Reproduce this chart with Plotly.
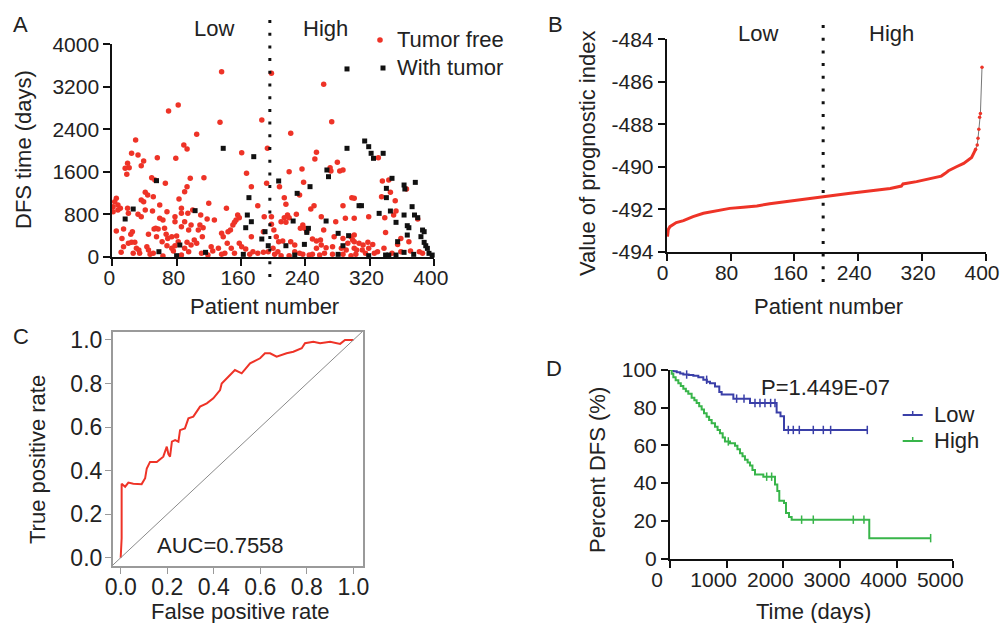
import numpy as np
import plotly.graph_objects as go

W, H = 1001, 623
FONT = "Arial, Liberation Sans, sans-serif"
TXT = "#222222"
RED = "#ee3327"
BLUE = "#3a3fa8"
GREEN = "#38b54a"

# ---------------- Panel A data: (patient number, DFS days) ----------------
red_patient = [82, 70, 29, 24, 32, 39, 36, 19, 21, 16, 18, 56, 79, 89, 93, 66, 49, 53, 83, 90, 93, 97, 41, 44, 36, 39, 51, 59, 5, 3, 7, 10, 1, 7, 1, 19, 20, 32, 36, 41, 50, 68, 86, 86, 78, 94, 59, 63, 78, 90, 86, 95, 54, 52, 57, 5, 14, 25, 23, 45, 65, 67, 74, 80, 69, 12, 20, 24, 28, 55, 62, 68, 82, 93, 14, 30, 43, 45, 51, 63, 26, 11, 34, 74, 78, 76, 90, 95, 86, 47, 33,
               136, 134, 105, 186, 114, 161, 167, 173, 193, 198, 192, 120, 142, 181, 100, 110, 118, 127, 156, 158, 154, 152, 150, 147, 144, 136, 138, 113, 109, 107, 112, 98, 102, 105, 98, 123, 132, 125, 143, 148, 158, 161, 166, 173, 189, 188, 175, 181, 188, 194, 152, 140, 111, 119, 136, 171,
               263, 273, 222, 254, 252, 236, 220, 271, 272, 280, 283, 287, 238, 208, 298, 214, 216, 233, 251, 247, 287, 229, 218, 220, 260, 214, 210, 216, 278, 290, 198, 198, 201, 237, 234, 239, 242, 263, 276, 287, 297, 299, 204, 207, 212, 222, 227, 249, 254, 259, 260, 254, 266, 274, 285, 293, 291, 301, 301, 202, 206, 227, 233, 237, 245, 249, 258, 264, 274, 287, 297, 220, 210, 200,
               331, 336, 344, 346, 335, 366, 352, 319, 339, 350, 353, 380, 301, 301, 301, 340, 359, 355, 369, 307, 312, 318, 324, 319, 311, 304, 330, 338, 348, 359, 371, 382, 386, 326, 315, 303]
red_dfs = [2857, 2744, 2198, 1947, 1915, 1802, 1714, 1758, 1677, 1664, 1551, 1865, 1853, 2104, 2028, 1382, 1488, 1444, 1086, 1225, 1319, 1476, 1212, 1162, 1068, 1036, 1130, 973, 1099, 1036, 973, 911, 942, 879, 848, 911, 816, 798, 754, 879, 860, 848, 911, 816, 754, 816, 722, 691, 659, 659, 565, 502, 534, 521, 521, 483, 521, 471, 421, 421, 534, 421, 377, 389, 345, 345, 251, 270, 270, 377, 283, 207, 283, 270, 188, 157, 188, 126, 63, 13, 63, 82, 63, 157, 207, 107, 157, 94, 31, 44, 126,
           3485, 2531, 2305, 2575, 1488, 1959, 1570, 1319, 2041, 3454, 1382, 1005, 911, 961, 879, 785, 710, 691, 785, 735, 691, 647, 597, 502, 471, 440, 377, 546, 597, 502, 377, 597, 314, 251, 220, 188, 157, 107, 251, 157, 251, 188, 144, 377, 754, 471, 94, 63, 82, 94, 63, 63, 63, 31, 44, 44,
           3247, 2543, 2324, 1966, 1840, 1652, 1601, 1677, 1614, 1777, 1614, 1633, 1400, 1319, 1112, 1112, 986, 1162, 961, 898, 961, 798, 785, 735, 754, 735, 659, 647, 659, 722, 754, 609, 502, 597, 534, 534, 471, 502, 377, 345, 377, 314, 377, 283, 295, 283, 220, 333, 295, 314, 220, 157, 170, 188, 157, 251, 126, 283, 157, 44, 94, 94, 63, 44, 31, 44, 31, 63, 44, 44, 19, 19, 19, 157,
           1865, 1426, 1444, 1212, 1130, 1275, 1055, 754, 735, 785, 860, 710, 1099, 722, 408, 458, 345, 232, 283, 251, 220, 270, 232, 157, 126, 126, 94, 157, 63, 94, 107, 94, 63, 63, 63, 44]

black_patient = [55, 26, 16, 58, 84, 80,
                 138, 176, 170, 103, 168, 173, 166, 190, 186, 194, 116, 163,
                 292, 292, 207, 267, 269, 246, 230, 225, 266, 244, 242, 281, 294, 216, 239, 287, 227, 281,
                 314, 319, 322, 325, 337, 348, 341, 363, 364, 377, 341, 307, 310, 332, 346, 353, 363, 373, 376, 380, 367, 369, 386, 388, 384, 367, 388, 390, 355, 392, 363, 344, 340, 375, 398, 394, 319, 353]
black_dfs = [1432, 898, 710, 94, 220, 19,
             2041, 1884, 1112, 867, 785, 659, 546, 471, 333, 207, 82, 44,
             3536, 2041, 1426, 1633, 1507, 1319, 1193, 672, 672, 534, 458, 440, 396, 207, 232, 207, 31, 44,
             2179, 2072, 1947, 1853, 1947, 1476, 1287, 1350, 1275, 1400, 1112, 961, 961, 816, 860, 647, 785, 942, 785, 735, 584, 546, 502, 471, 377, 408, 270, 207, 283, 157, 82, 31, 31, 44, 31, 63, 19, 31]

cutoff_patient = 196

# ---------------- Panel B data: sorted prognostic index ----------------
b_patient = [1, 2, 4, 12, 21, 33, 46, 63, 79, 96, 113, 129, 146, 163, 180, 195, 213, 230, 246, 263, 280, 294, 296, 313, 330, 344, 349, 353, 363, 372, 382, 387]
b_value = [-493.29, -492.95, -492.82, -492.63, -492.54, -492.35, -492.19, -492.08, -491.96, -491.91, -491.85, -491.74, -491.65, -491.57, -491.49, -491.41, -491.33, -491.25, -491.17, -491.10, -491.02, -490.91, -490.81, -490.70, -490.55, -490.44, -490.31, -490.19, -490.00, -489.84, -489.56, -489.18]
b_tail_patient = [387, 389, 390, 391, 392, 393, 395]
b_tail_value = [-489.18, -488.98, -488.66, -488.24, -487.67, -487.49, -485.32]

# ---------------- Panel C data: ROC ----------------
roc_fpr = [0.0, 0.004, 0.004, 0.019, 0.033, 0.054, 0.09, 0.105, 0.112, 0.126, 0.155, 0.183, 0.198, 0.205, 0.212, 0.22, 0.234, 0.248, 0.255, 0.276, 0.291, 0.312, 0.341, 0.37, 0.398, 0.427, 0.434, 0.47, 0.491, 0.52, 0.556, 0.599, 0.62, 0.642, 0.67, 0.713, 0.742, 0.778, 0.792, 0.828, 0.857, 0.9, 0.943, 0.964, 1.0]
roc_tpr = [0.0, 0.089, 0.34, 0.326, 0.345, 0.34, 0.338, 0.365, 0.41, 0.44, 0.44, 0.464, 0.51, 0.476, 0.464, 0.533, 0.54, 0.533, 0.586, 0.594, 0.64, 0.648, 0.694, 0.709, 0.732, 0.77, 0.80, 0.839, 0.862, 0.847, 0.893, 0.916, 0.939, 0.939, 0.923, 0.939, 0.946, 0.962, 0.985, 0.992, 0.985, 0.992, 0.982, 1.0, 1.0]

# ---------------- Panel D data: Kaplan-Meier ----------------
low_t = [0, 60, 118, 180, 235, 330, 412, 500, 588, 650, 706, 794, 870, 912, 1118, 1412, 1882, 1950, 2012]
low_s = [100, 99.4, 98.8, 98.2, 97.6, 97.3, 97.0, 96.2, 94.8, 93.8, 93.0, 91.3, 88.3, 87.0, 84.8, 82.5, 77.5, 75.5, 68.2]
low_end = 3482
low_cens = [294, 647, 1176, 1306, 1500, 1588, 1676, 1776, 1853, 2088, 2176, 2282, 2529, 2706, 2835, 3482]

high_t = [0, 30, 59, 100, 147, 190, 235, 280, 323, 382, 430, 470, 515, 559, 600, 647, 690, 735, 794, 840, 882, 930, 970, 1059, 1147, 1190, 1235, 1280, 1323, 1370, 1412, 1455, 1500, 1647, 1853, 1894, 1929, 2012, 2047, 2100, 2147, 3517]
high_s = [100, 98.0, 96.2, 94.5, 93.0, 91.5, 90.0, 88.7, 87.4, 85.3, 83.9, 82.5, 80.8, 79.0, 77.1, 75.2, 73.5, 71.7, 69.9, 68.2, 66.4, 64.2, 62.1, 61.2, 59.8, 57.9, 55.9, 54.2, 52.4, 50.9, 49.3, 47.0, 44.6, 43.4, 39.3, 35.8, 30.6, 29.4, 24.1, 22.0, 20.6, 10.8]
high_end = 4600
high_cens = [1029, 1706, 1794, 2323, 2529, 3235, 3423, 4600]


def px(x):
    return x / W


def py(y):
    return 1 - y / H


def km_at(t, s, c):
    idx = np.searchsorted(np.array(t), np.array(c), side="right") - 1
    return [s[i] for i in idx]


fig = go.Figure()

# Panel A
fig.add_trace(go.Scatter(x=red_patient, y=red_dfs, mode="markers", xaxis="x", yaxis="y",
                         marker=dict(symbol="circle", size=5.5, color=RED), cliponaxis=False))
fig.add_trace(go.Scatter(x=black_patient, y=black_dfs, mode="markers", xaxis="x", yaxis="y",
                         marker=dict(symbol="square", size=5, color="#111111"), cliponaxis=False))

# Panel B
fig.add_trace(go.Scatter(x=b_patient, y=b_value, mode="lines", xaxis="x2", yaxis="y2",
                         line=dict(color=RED, width=3), cliponaxis=False))
fig.add_trace(go.Scatter(x=b_tail_patient, y=b_tail_value, mode="lines+markers", xaxis="x2", yaxis="y2",
                         line=dict(color="#777777", width=1), marker=dict(color=RED, size=3.5), cliponaxis=False))

# Panel C
fig.add_trace(go.Scatter(x=roc_fpr, y=roc_tpr, mode="lines", xaxis="x3", yaxis="y3",
                         line=dict(color=RED, width=2)))

# Panel D
fig.add_trace(go.Scatter(x=low_t + [low_end], y=low_s + [low_s[-1]], mode="lines", xaxis="x4", yaxis="y4",
                         line=dict(color=BLUE, width=2, shape="hv"), cliponaxis=False))
fig.add_trace(go.Scatter(x=high_t + [high_end], y=high_s + [high_s[-1]], mode="lines", xaxis="x4", yaxis="y4",
                         line=dict(color=GREEN, width=2, shape="hv"), cliponaxis=False))
fig.add_trace(go.Scatter(x=low_cens, y=km_at(low_t, low_s, low_cens), mode="markers", xaxis="x4", yaxis="y4",
                         marker=dict(symbol="line-ns", size=6, line=dict(color=BLUE, width=1.5)), cliponaxis=False))
fig.add_trace(go.Scatter(x=high_cens, y=km_at(high_t, high_s, high_cens), mode="markers", xaxis="x4", yaxis="y4",
                         marker=dict(symbol="line-ns", size=6, line=dict(color=GREEN, width=1.5)), cliponaxis=False))

tickfont = dict(family=FONT, size=21, color=TXT)
base = dict(showgrid=False, zeroline=False, showline=True, linecolor="#111111", linewidth=2,
            ticks="outside", ticklen=7, tickwidth=2, tickcolor="#111111", tickfont=tickfont,
            fixedrange=True, automargin=False, ticklabeloverflow="allow")

fig.update_layout(
    template="none",
    width=W, height=H, margin=dict(l=0, r=0, t=0, b=0, pad=0, autoexpand=False),
    paper_bgcolor="white", plot_bgcolor="white", showlegend=False,
    font=dict(family=FONT, color=TXT),
    xaxis=dict(base, domain=[px(112.3), px(433.8)], range=[0, 400], tickvals=[0, 80, 160, 240, 320, 400],
               ticklabelshift=-3, ticklabelstandoff=-6, anchor="y"),
    yaxis=dict(base, domain=[py(256.7), py(44.3)], range=[0, 4000], tickvals=[0, 800, 1600, 2400, 3200, 4000],
               anchor="x"),
    xaxis2=dict(base, domain=[px(666.7), px(986)], range=[0, 400], tickvals=[0, 80, 160, 240, 320, 400],
                ticklabelshift=-4, ticklabelstandoff=-6, anchor="y2"),
    yaxis2=dict(base, domain=[py(251.7), py(39.3)], range=[-494, -484],
                tickvals=[-494, -492, -490, -488, -486, -484],
                ticktext=["-494", "-492", "-490", "-488", "-486", "-484"], anchor="x2"),
    xaxis3=dict(base, domain=[px(112.7), px(362.7)], range=[-0.0344, 1.04],
                tickvals=[0, 0.2, 0.4, 0.6, 0.8, 1.0], tickformat=".1f",
                linecolor="#9a9a9a", linewidth=1.5, mirror=True, tickcolor="#9a9a9a", tickwidth=1.2,
                ticklen=6, ticklabelstandoff=-6, tickfont=dict(tickfont, size=23), anchor="y3"),
    yaxis3=dict(base, domain=[py(566), py(331.7)], range=[-0.038, 1.038],
                tickvals=[0, 0.2, 0.4, 0.6, 0.8, 1.0], tickformat=".1f",
                linecolor="#9a9a9a", linewidth=1.5, mirror=True, tickcolor="#9a9a9a", tickwidth=1.2,
                ticklen=6, ticklabelstandoff=-2, tickfont=dict(tickfont, size=23), anchor="x3"),
    xaxis4=dict(base, domain=[px(670), px(953.3)], range=[0, 5000], tickvals=[0, 1000, 2000, 3000, 4000, 5000],
                ticklabelshift=-13, ticklabelstandoff=-6, anchor="y4"),
    yaxis4=dict(base, domain=[py(558.5), py(370)], range=[0, 100], tickvals=[0, 20, 40, 60, 80, 100],
                anchor="x4"),
)

shapes = []
# cutoff dotted lines
for xr, y0, y1 in [("x", 277, 15), ("x2", 282, 22)]:
    shapes.append(dict(type="line", xref=xr, yref="paper", x0=cutoff_patient, x1=cutoff_patient,
                       y0=py(y0), y1=py(y1), line=dict(color="#111111", width=3, dash="3px,9.7px")))
# diagonal reference in ROC
shapes.append(dict(type="line", xref="x3", yref="y3", x0=-0.035, y0=-0.035, x1=1.04, y1=1.04,
                   line=dict(color="#8a8a8a", width=1)))
# legend glyphs panel A
shapes.append(dict(type="circle", xref="paper", yref="paper", x0=px(377.2), x1=px(382.8), y0=py(42.8), y1=py(37.2),
                   fillcolor=RED, line=dict(width=0)))
shapes.append(dict(type="rect", xref="paper", yref="paper", x0=px(380.5), x1=px(385.5), y0=py(70.5), y1=py(65.5),
                   fillcolor="#111111", line=dict(width=0)))
# legend glyphs panel D
for yy, col in [(415, BLUE), (441, GREEN)]:
    shapes.append(dict(type="line", xref="paper", yref="paper", x0=px(902.7), x1=px(922.7), y0=py(yy), y1=py(yy),
                       line=dict(color=col, width=2)))
    shapes.append(dict(type="line", xref="paper", yref="paper", x0=px(912.7), x1=px(912.7), y0=py(yy), y1=py(yy - 4),
                       line=dict(color=col, width=1.5)))
fig.update_layout(shapes=shapes)

ann = []


def text(x, y, s, size=22, angle=0, xanchor="center"):
    ann.append(dict(x=px(x), y=py(y), xref="paper", yref="paper", text=s, showarrow=False,
                    xanchor=xanchor, yanchor="middle", textangle=angle,
                    font=dict(family=FONT, size=size, color=TXT)))


# panel letters
text(20, 24, "A")
text(555, 24, "B")
text(21, 336, "C")
text(554, 368, "D")
# group labels
text(214, 28, "Low")
text(325, 28, "High")
text(758, 33, "Low")
text(891, 33, "High")
# axis titles
text(23, 150, "DFS time (days)", angle=-90)
text(264, 306, "Patient number")
text(588, 154, "Value of prognostic index", angle=-90)
text(828, 306, "Patient number")
text(38, 460, "True positive rate", angle=-90)
text(240, 611, "False positive rate")
text(597, 470, "Percent DFS (%)", angle=-90)
text(813, 611, "Time (days)")
# legends
text(395, 40, "Tumor free", xanchor="left")
text(395, 68, "With tumor", xanchor="left")
text(932, 414, "Low", xanchor="left")
text(932, 440, "High", xanchor="left")
# stats
text(220, 545, "AUC=0.7558")
text(825, 387, "P=1.449E-07")
fig.update_layout(annotations=ann)

fig.write_html("out.html")
